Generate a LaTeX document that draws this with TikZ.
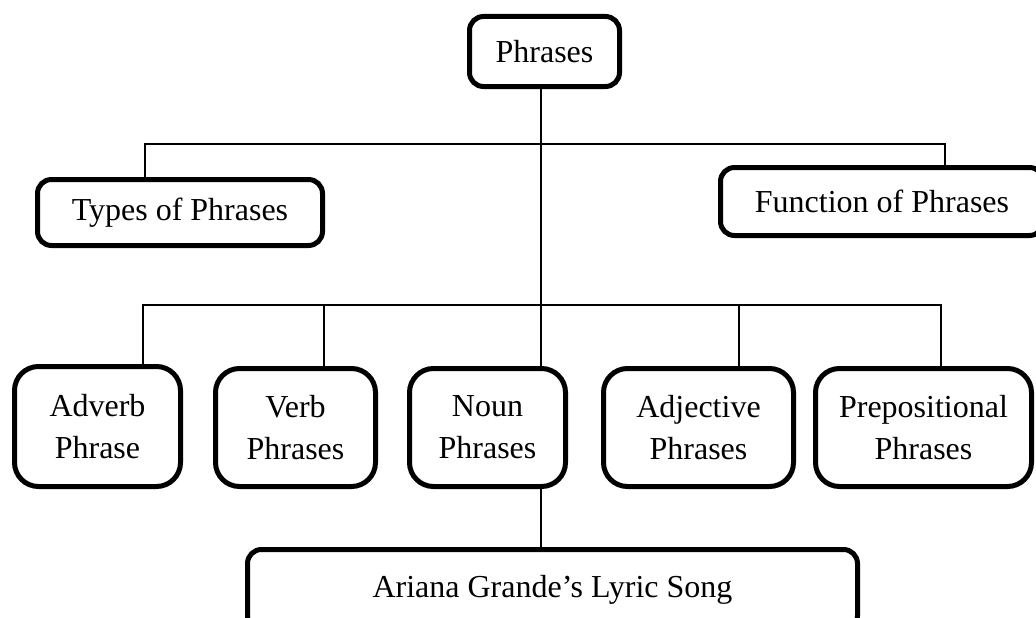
\documentclass[tikz,border=0pt]{standalone}
\usepackage{fontspec}
\setmainfont{Liberation Serif}
\begin{document}
\begin{tikzpicture}[x=1pt,y=-1pt,
  box/.style={draw=black,line width=5pt,fill=white,inner sep=0pt,align=center,
    font=\fontsize{32}{42}\selectfont},
  topbox/.style={box,rounded corners=14pt},
  midbox/.style={box,rounded corners=24pt},
  conn/.style={draw=black,line width=2pt}]
\useasboundingbox (0,0) rectangle (1036,618);
% nodes
\node[topbox,minimum width=150pt,minimum height=70pt] (top) at (544.5,51.5) {Phrases};
\node[topbox,minimum width=285pt,minimum height=66pt] (types) at (180,212.5) {Types of Phrases};
\node[topbox,minimum width=323pt,minimum height=68pt] (func) at (882,201.5) {Function of Phrases};
\node[midbox,minimum width=166pt,minimum height=120pt] (adv) at (97.5,426.5) {Adverb\\Phrase};
\node[midbox,minimum width=160pt,minimum height=118pt] (verb) at (295.5,427.5) {Verb\\Phrases};
\node[midbox,minimum width=156pt,minimum height=118pt] (noun) at (487.5,427.5) {Noun\\Phrases};
\node[midbox,minimum width=190pt,minimum height=118pt] (adj) at (698.5,427.5) {Adjective\\Phrases};
\node[midbox,minimum width=216pt,minimum height=118pt] (prep) at (923.5,427.5) {Prepositional\\Phrases};
\node[topbox,minimum width=610pt,minimum height=80pt] (song) at (552.5,589.5) {Ariana Grande’s Lyric Song};
% junction coordinates
\coordinate (j1) at (541,144);
\coordinate (j2) at (541,305);
\coordinate (l1) at (145,144);
\coordinate (r1) at (945,144);
\coordinate (l2) at (143,305);
\coordinate (r2) at (941,305);
\coordinate (xv) at (324,305);
\coordinate (xa) at (739,305);
% connectors
\draw[conn] (top.south -| j1) -- (j1) -- (j2);
\draw[conn] (types.north -| l1) -- (l1) -- (r1) -- (func.north -| r1);
\draw[conn] (adv.north -| l2) -- (l2) -- (r2) -- (prep.north -| r2);
\draw[conn] (xv) -- (verb.north -| xv);
\draw[conn] (xa) -- (adj.north -| xa);
\draw[conn] (j2) -- (noun.north -| j2);
\draw[conn] (noun.south -| j2) -- (song.north -| j2);
\end{tikzpicture}
\end{document}
